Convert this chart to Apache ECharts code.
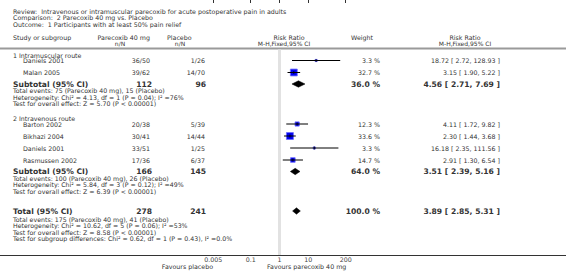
<!DOCTYPE html>
<html>
<head>
<meta charset="utf-8">
<script src="https://cdn.jsdelivr.net/npm/echarts@6/dist/echarts.min.js"></script>
<style>
  html, body { margin: 0; padding: 0; background: #fff; }
  #forest { width: 566px; height: 272px; }
</style>
</head>
<body>
<div id="forest"></div>
<script>
// study data
var studyNames = ['Daniels 2001', 'Malan 2005', 'Barton 2002', 'Bikhazi 2004', 'Daniels 2001', 'Rasmussen 2002'];
var studyGroup = [0, 0, 1, 1, 1, 1];
var treatEvents = ['36/50', '39/62', '20/38', '30/41', '33/51', '17/36'];
var placeboEvents = ['1/26', '14/70', '5/39', '14/44', '1/25', '6/37'];
var weights = [3.3, 32.7, 12.3, 33.6, 3.3, 14.7];
var riskRatio = [18.72, 3.15, 4.11, 2.30, 16.18, 2.91];
var ciLow = [2.72, 1.90, 1.72, 1.44, 2.35, 1.30];
var ciHigh = [128.93, 5.22, 9.82, 3.68, 111.56, 6.54];

// subgroup + total data (last entry = total)
var groupNames = ['1 Intramuscular route', '2 Intravenous route'];
var pooledLabels = ['Subtotal (95% CI)', 'Subtotal (95% CI)', 'Total (95% CI)'];
var pooledTreatN = [112, 166, 278];
var pooledPlaceboN = [96, 145, 241];
var pooledWeight = [36.0, 64.0, 100.0];
var pooledRR = [4.56, 3.51, 3.89];
var pooledLow = [2.71, 2.39, 2.85];
var pooledHigh = [7.69, 5.16, 5.31];
var pooledNotes = [
  ['Total events: 75 (Parecoxib 40 mg), 15 (Placebo)',
   'Heterogeneity: Chi\u00b2 = 4.13, df = 1 (P = 0.04); I\u00b2 =76%',
   'Test for overall effect: Z = 5.70 (P < 0.00001)'],
  ['Total events: 100 (Parecoxib 40 mg), 26 (Placebo)',
   'Heterogeneity: Chi\u00b2 = 5.84, df = 3 (P = 0.12); I\u00b2 =49%',
   'Test for overall effect: Z = 6.39 (P < 0.00001)'],
  ['Total events: 175 (Parecoxib 40 mg), 41 (Placebo)',
   'Heterogeneity: Chi\u00b2 = 10.62, df = 5 (P = 0.06); I\u00b2 =53%',
   'Test for overall effect: Z = 8.58 (P < 0.00001)',
   'Test for subgroup differences: Chi\u00b2 = 0.62, df = 1 (P = 0.43), I\u00b2 =0.0%']
];

var headerLines = [
  'Review:  Intravenous or intramuscular parecoxib for acute postoperative pain in adults',
  'Comparison:  2 Parecoxib 40 mg vs. Placebo',
  'Outcome:  1 Participants with at least 50% pain relief'
];
var tickValues = [0.005, 0.1, 1, 10, 200];
var favourLeft = 'Favours placebo';
var favourRight = 'Favours parecoxib 40 mg';

var chart = echarts.init(document.getElementById('forest'), null, { renderer: 'svg' });

var FONT = 'DejaVu Sans';
var txtColor = '#333';
function regular(size) { return 'normal ' + (size || 6.3) + 'px "' + FONT + '"'; }
function bold(size) { return 'bold ' + (size || 7.6) + 'px "' + FONT + '"'; }
function fmtCI(r, lo, hi) {
  return r.toFixed(2) + ' [ ' + lo.toFixed(2) + ', ' + hi.toFixed(2) + ' ]';
}

var graphics = [];
function text(str, x, y, align, font, color) {
  graphics.push({
    type: 'text', x: x, y: y, silent: true,
    style: { text: str, font: font || regular(), fill: color || txtColor, align: align || 'left', verticalAlign: 'middle' }
  });
}
function hline(y, x1, x2, color, w) {
  graphics.push({
    type: 'line', silent: true,
    shape: { x1: x1, y1: y, x2: x2, y2: y },
    style: { stroke: color, lineWidth: w }
  });
}

// column anchors
var colName = 13, colStudy = 23, colTreat = 150, colPlacebo = 205, colWeight = 380, colRR = 500;

// title block
text(headerLines[0], 13, 11.7);
text(headerLines[1], 13, 17.9);
text(headerLines[2], 13, 24.1);

// column headers
var h1 = 37.6, h2 = 43.6;
text('Study or subgroup', colName, h1);
text('Parecoxib 40 mg', colTreat, h1, 'right');
text('n/N', 120, h2, 'center', regular(6));
text('Placebo', 167, h1);
text('n/N', 180, h2, 'center', regular(6));
text('Risk Ratio', 289, h1, 'center');
text('M-H,Fixed,95% CI', 284, h2, 'center', regular(6));
text('Weight', 362, h1, 'center');
text('Risk Ratio', 465, h1, 'center');
text('M-H,Fixed,95% CI', 465, h2, 'center', regular(6));
hline(48.5, 0, 566, '#9a9a9a', 2);

// rows
var marks = [];   // [rr, lo, hi, y, weight, kind]
var y = 55;
for (var g = 0; g < groupNames.length; g++) {
  text(groupNames[g], colName, y);
  y += 5.5;
  for (var i = 0; i < studyNames.length; i++) {
    if (studyGroup[i] !== g) continue;
    text(studyNames[i], colStudy, y);
    text(treatEvents[i], colTreat, y, 'right');
    text(placeboEvents[i], colPlacebo, y, 'right');
    text(weights[i].toFixed(1) + ' %', colWeight, y, 'right');
    text(fmtCI(riskRatio[i], ciLow[i], ciHigh[i]), colRR, y, 'right');
    marks.push([riskRatio[i], ciLow[i], ciHigh[i], y, weights[i], 0]);
    y += 12;
  }
  y -= 0.5;
  text(pooledLabels[g], colName, y, 'left', bold());
  text(String(pooledTreatN[g]), colTreat + 2, y, 'right', bold());
  text(String(pooledPlaceboN[g]), colPlacebo + 1, y, 'right', bold());
  text(pooledWeight[g].toFixed(1) + ' %', colWeight, y, 'right', bold());
  text(fmtCI(pooledRR[g], pooledLow[g], pooledHigh[g]), colRR, y, 'right', bold());
  marks.push([pooledRR[g], pooledLow[g], pooledHigh[g], y, pooledWeight[g], 1]);
  y += 6.5;
  for (var n = 0; n < pooledNotes[g].length; n++) {
    text(pooledNotes[g][n], colName, y, 'left', regular(6.25));
    y += 6.5;
  }
  y += 8.5;
}
// total
y = y + 5;
var t = groupNames.length;
text(pooledLabels[t], colName, y, 'left', bold());
text(String(pooledTreatN[t]), colTreat + 2, y, 'right', bold());
text(String(pooledPlaceboN[t]), colPlacebo + 1, y, 'right', bold());
text(pooledWeight[t].toFixed(1) + ' %', colWeight, y, 'right', bold());
text(fmtCI(pooledRR[t], pooledLow[t], pooledHigh[t]), colRR, y, 'right', bold());
marks.push([pooledRR[t], pooledLow[t], pooledHigh[t], y, pooledWeight[t], 1]);
y += 8;
for (var m = 0; m < pooledNotes[t].length; m++) {
  text(pooledNotes[t][m], colName, y, 'left', regular(6.25));
  y += 6.5;
}

// bottom axis line and favours labels
hline(255.5, 0, 566, '#333', 1);
text(favourLeft, 213, 266.5, 'right');
text(favourRight, 267, 266.5, 'left');

var option = {
  animation: false,
  backgroundColor: '#fff',
  grid: { left: 213.3, right: 220.3, top: 0, bottom: 16.5 },
  xAxis: {
    type: 'log',
    logBase: 10,
    min: 0.005,
    max: 200,
    axisLine: { show: false },
    axisTick: { show: true, customValues: tickValues, length: 3, lineStyle: { color: '#333' } },
    axisLabel: {
      customValues: tickValues,
      margin: 1,
      fontSize: 6.3,
      fontFamily: FONT,
      color: '#444',
      formatter: function (v) {
        var best = tickValues[0];
        tickValues.forEach(function (tv) { if (Math.abs(Math.log(tv) - Math.log(v)) < Math.abs(Math.log(best) - Math.log(v))) best = tv; });
        return String(best);
      }
    },
    splitLine: { show: false }
  },
  yAxis: {
    type: 'value', min: 0, max: 255.5, inverse: true, show: false
  },
  graphic: graphics,
  series: [
    {
      // null line at RR = 1
      type: 'custom',
      silent: true,
      data: [[1, 49.5, 255]],
      encode: { x: 0, y: [1, 2] },
      renderItem: function (params, api) {
        var a = api.coord([api.value(0), api.value(1)]);
        var b = api.coord([api.value(0), api.value(2)]);
        return { type: 'line', shape: { x1: a[0], y1: a[1], x2: b[0], y2: b[1] }, style: { stroke: '#e2e2e2', lineWidth: 3 } };
      },
      z: 1
    },
    {
      type: 'custom',
      silent: true,
      clip: false,
      data: marks,
      encode: { x: [0, 1, 2], y: 3 },
      renderItem: function (params, api) {
        var r = api.value(0), lo = api.value(1), hi = api.value(2), yy = api.value(3), w = api.value(4), kind = api.value(5);
        var pc = api.coord([r, yy]);
        var pl = api.coord([lo, yy]);
        var ph = api.coord([hi, yy]);
        if (kind === 1) {
          return {
            type: 'polygon',
            shape: { points: [[pl[0], pc[1]], [pc[0], pc[1] - 3.2], [ph[0], pc[1]], [pc[0], pc[1] + 3.2]] },
            style: { fill: '#000', stroke: '#000', lineWidth: 0.5 }
          };
        }
        var s = 1.2 * Math.sqrt(w);
        return {
          type: 'group',
          children: [
            { type: 'rect', shape: { x: pc[0] - s / 2, y: pc[1] - s / 2, width: s, height: s }, style: { fill: '#0000f0', stroke: '#6a6aff', lineWidth: 0.8 } },
            { type: 'line', shape: { x1: pl[0], y1: pc[1], x2: ph[0], y2: pc[1] }, style: { stroke: '#000', lineWidth: 1 } },
            { type: 'line', shape: { x1: pc[0], y1: pc[1] - 1.5, x2: pc[0], y2: pc[1] + 1.5 }, style: { stroke: '#000', lineWidth: 0.8 } }
          ]
        };
      },
      z: 3
    }
  ]
};

chart.setOption(option);
</script>
</body>
</html>
